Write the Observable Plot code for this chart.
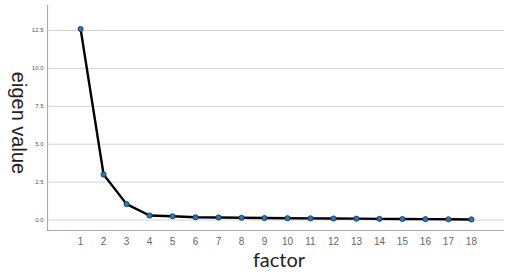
<!DOCTYPE html>
<html><head><meta charset="utf-8">
<script src="https://cdn.jsdelivr.net/npm/d3@7"></script>
<script src="https://cdn.jsdelivr.net/npm/@observablehq/plot@0.6"></script>
<style>body{margin:0;background:#fff}</style>
</head><body><div id="chart"></div>
<script>
const factors = [1,2,3,4,5,6,7,8,9,10,11,12,13,14,15,16,17,18];
const eigenValues = [12.6,3.0,1.05,0.3,0.25,0.18,0.17,0.15,0.13,0.12,0.11,0.1,0.09,0.08,0.07,0.06,0.05,0.04];
const yTicks = [0,2.5,5,7.5,10,12.5];
const xLabel = "factor";
const yLabel = "eigen value";

const data = factors.map((f,i)=>({factor:f, value:eigenValues[i]}));
const xDomain = [-0.44, 19.44];
const yDomain = [-0.69, 14.15];

const chart = Plot.plot({
  width: 510, height: 276,
  marginLeft: 47, marginRight: 6, marginTop: 5, marginBottom: 46,
  style: {fontFamily: "'Liberation Sans', Arial, sans-serif", background: "#fff"},
  x: {domain: xDomain},
  y: {domain: yDomain},
  marks: [
    Plot.gridY(yTicks, {stroke: "#d4d4d4", strokeOpacity: 1, strokeWidth: 1}),
    Plot.axisY(yTicks, {tickSize: 0, tickPadding: 4, fontSize: 6, fill: "#555", tickFormat: d3.format(".1f"), label: null}),
    Plot.axisX(factors, {tickSize: 0, tickPadding: 7, fontSize: 10, fill: "#666", label: null}),
    Plot.ruleX([xDomain[0]], {stroke: "#aaa", strokeWidth: 1.2}),
    Plot.ruleY([yDomain[0]], {stroke: "#aaa", strokeWidth: 1.2}),
    Plot.line(data, {x: "factor", y: "value", stroke: "#000", strokeWidth: 2.4}),
    Plot.dot(data, {x: "factor", y: "value", r: 2.6, fill: "#2a78b8", stroke: "#0d3557", strokeWidth: 0.8}),
    Plot.text([yLabel], {frameAnchor: "left", textAnchor: "middle", dx: -29, dy: 5, rotate: 90, fontSize: 20, fill: "#222", fontFamily: "'Liberation Sans', Arial, sans-serif"}),
    Plot.text([xLabel], {frameAnchor: "bottom", textAnchor: "middle", dx: 3, dy: 36, fontSize: 20, fill: "#222", fontFamily: "Lato, 'Open Sans', sans-serif"})
  ]
});
document.getElementById("chart").appendChild(chart);
</script>
</body></html>
